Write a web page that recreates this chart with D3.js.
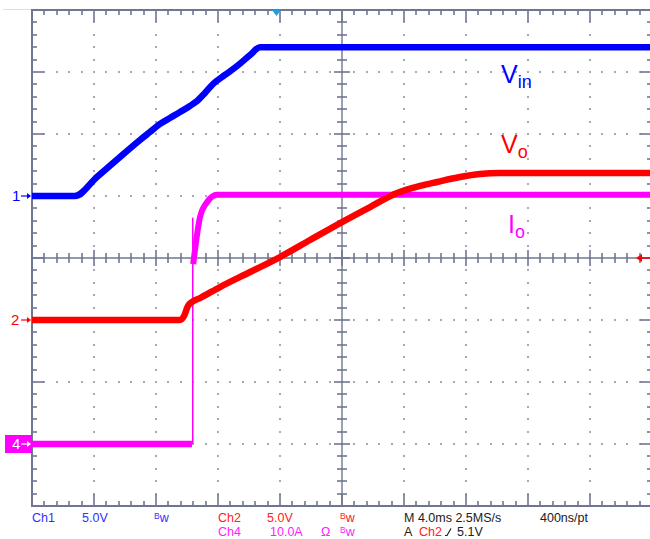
<!DOCTYPE html>
<html>
<head>
<meta charset="utf-8">
<script src="https://cdn.jsdelivr.net/npm/d3@7"></script>
<style>
  html, body { margin: 0; padding: 0; background: #ffffff; }
  svg { display: block; font-family: "Liberation Sans", Arial, sans-serif; }
</style>
</head>
<body>
<svg id="scope" width="650" height="539"></svg>
<script>
// Time base: 4 ms/div, 10 divisions; vertical: 8 divisions
const timeMs = [0, 40];

// Ch1 – input voltage Vin (5 V/div, ground at +1 div)
const vinTime = [0, 2.77, 4.19, 5.68, 6.97, 7.61, 8.26, 8.90, 9.55, 10.19, 10.65, 11.16, 11.68, 12.45, 13.23, 14.07, 14.71, 40];
const vinVolts = [0, 0, 1.53, 3.15, 4.52, 5.16, 5.81, 6.29, 6.77, 7.26, 7.66, 8.31, 9.03, 9.76, 10.48, 11.37, 12.0, 12.0];

// Ch2 – output voltage Vo (5 V/div, ground at -1 div)
const voTime = [0, 9.55, 9.81, 10.06, 10.32, 10.84, 12.13, 14.07, 16.0, 17.94, 20.0, 21.81, 23.55, 25.03, 26.13, 27.61, 28.90, 30.19, 40];
const voVolts = [0, 0, 0.32, 1.13, 1.45, 1.77, 2.66, 3.87, 5.08, 6.45, 7.90, 9.11, 10.24, 10.81, 11.13, 11.53, 11.77, 11.85, 11.85];

// Ch4 – output current Io (10 A/div, ground at -3 div)
const ioOffTime = [0, 10.32];
const ioOffAmps = [0, 0];
const ioSpikeTime = [10.37, 10.37];
const ioSpikeAmps = [0, 36.5];
const ioOnTime = [10.40, 10.84, 11.29, 11.94, 40];
const ioOnAmps = [29.0, 36.6, 39.0, 40.2, 40.2];

const channels = {
  ch1: { offsetDiv: 1, perDiv: 5, color: "#0000ff" },
  ch2: { offsetDiv: -1, perDiv: 5, color: "#ff0000" },
  ch4: { offsetDiv: -3, perDiv: 10, color: "#ff00ff" }
};

const svg = d3.select("#scope");
const gridColor = "#6f7690";

const xDiv = d3.scaleLinear().domain([0, 10]).range([32, 652]);
const yDiv = d3.scaleLinear().domain([-4, 4]).range([506, 10]);
const xTime = d3.scaleLinear().domain(timeMs).range(xDiv.range());

const minorX = d3.range(0, 51).map(i => i / 5);
const minorY = d3.range(0, 41).map(i => i / 5 - 4);
const isMajor = v => Math.abs(v - Math.round(v)) < 1e-6;
const px = v => Math.round(v);

// faint top-left rule
svg.append("line").attr("x1", 3).attr("x2", 32).attr("y1", 9.5).attr("y2", 9.5)
  .attr("stroke", "#e4dfd0").attr("stroke-width", 1);

const grid = svg.append("g");

// dotted graticule
const dots = [];
d3.range(1, 10).filter(d => d !== 5).forEach(d => {
  minorY.forEach(v => { if (v > -4 && v < 4) dots.push([xDiv(d), yDiv(v)]); });
});
d3.range(-3, 4).filter(d => d !== 0).forEach(d => {
  minorX.forEach(v => { if (v > 0 && v < 10) dots.push([xDiv(v), yDiv(d)]); });
});
grid.selectAll("rect.dot").data(dots).join("rect")
  .attr("class", "dot")
  .attr("x", d => Math.round(d[0]) - 1).attr("y", d => Math.round(d[1]) - 1)
  .attr("width", 2).attr("height", 2).attr("fill", "#a4a9bb")
  .attr("shape-rendering", "crispEdges");

// border and centre-axis ticks
const tickG = grid.append("g").attr("stroke", gridColor).attr("stroke-width", 1.6);
minorX.forEach(v => {
  const x = px(xDiv(v));
  const len = isMajor(v) ? 12 : 5;
  tickG.append("line").attr("x1", x).attr("x2", x).attr("y1", yDiv(4)).attr("y2", yDiv(4) + len);
  tickG.append("line").attr("x1", x).attr("x2", x).attr("y1", yDiv(-4)).attr("y2", yDiv(-4) - len);
  const c = isMajor(v) ? 8 : 5;
  tickG.append("line").attr("x1", x).attr("x2", x).attr("y1", yDiv(0) - c).attr("y2", yDiv(0) + c);
});
minorY.forEach(v => {
  const y = px(yDiv(v));
  const len = isMajor(v) ? 12 : 5;
  tickG.append("line").attr("y1", y).attr("y2", y).attr("x1", xDiv(0)).attr("x2", xDiv(0) + len);
  tickG.append("line").attr("y1", y).attr("y2", y).attr("x1", xDiv(10)).attr("x2", xDiv(10) - len);
  const c = isMajor(v) ? 8 : 5;
  tickG.append("line").attr("y1", y).attr("y2", y).attr("x1", xDiv(5) - c).attr("x2", xDiv(5) + c);
});

// centre cross
grid.append("line").attr("x1", xDiv(0)).attr("x2", xDiv(10)).attr("y1", px(yDiv(0))).attr("y2", px(yDiv(0)))
  .attr("stroke", gridColor).attr("stroke-width", 1.4);
grid.append("line").attr("x1", px(xDiv(5))).attr("x2", px(xDiv(5))).attr("y1", yDiv(4)).attr("y2", yDiv(-4))
  .attr("stroke", gridColor).attr("stroke-width", 1.4);

// border
grid.append("rect").attr("x", xDiv(0)).attr("y", yDiv(4))
  .attr("width", xDiv(10) - xDiv(0)).attr("height", yDiv(-4) - yDiv(4))
  .attr("fill", "none").attr("stroke", gridColor).attr("stroke-width", 2);

// traces
function trace(times, values, ch, width, curve) {
  const c = channels[ch];
  const line = d3.line()
    .curve(curve || d3.curveLinear)
    .x(d => xTime(d[0]))
    .y(d => yDiv(c.offsetDiv + d[1] / c.perDiv));
  svg.append("path")
    .datum(times.map((t, i) => [t, values[i]]))
    .attr("d", line)
    .attr("fill", "none")
    .attr("stroke", c.color)
    .attr("stroke-width", width)
    .attr("stroke-linejoin", "round");
}
trace(ioOffTime, ioOffAmps, "ch4", 6.5);
trace(ioSpikeTime, ioSpikeAmps, "ch4", 1.5);
trace(ioOnTime, ioOnAmps, "ch4", 6, d3.curveMonotoneX);
trace(voTime, voVolts, "ch2", 6.5, d3.curveMonotoneX);
trace(vinTime, vinVolts, "ch1", 6.5, d3.curveMonotoneX);

// channel ground markers
function groundArrow(y, color) {
  svg.append("line").attr("x1", 21).attr("x2", 30).attr("y1", y).attr("y2", y)
    .attr("stroke", color).attr("stroke-width", 1.2);
  svg.append("path").attr("d", `M${31},${y} l-4,-3 l0,6 z`).attr("fill", color);
}
const y1 = yDiv(channels.ch1.offsetDiv);
const y2 = yDiv(channels.ch2.offsetDiv);
const y4 = yDiv(channels.ch4.offsetDiv);

svg.append("text").attr("x", 12).attr("y", y1 + 5).attr("font-size", 15).attr("fill", "#0000ff").text("1");
groundArrow(y1, "#0000ff");
svg.append("text").attr("x", 11).attr("y", y2 + 5).attr("font-size", 15).attr("fill", "#ff0000").text("2");
groundArrow(y2, "#ff0000");
svg.append("rect").attr("x", 5).attr("y", y4 - 9).attr("width", 27).attr("height", 18).attr("fill", "#ff00ff");
svg.append("text").attr("x", 12).attr("y", y4 + 5).attr("font-size", 15).attr("fill", "#ffffff").text("4");
groundArrow(y4, "#ffffff");

// trigger level marker (right) and trigger position marker (top)
const trigY = yDiv(0);
svg.append("line").attr("x1", 640).attr("x2", 650).attr("y1", trigY).attr("y2", trigY)
  .attr("stroke", "#ff0000").attr("stroke-width", 1.5);
svg.append("path").attr("d", `M636,${trigY} l6,-4 l0,8 z`).attr("fill", "#ff0000");
svg.append("path").attr("d", `M272,${yDiv(4)} l9,0 l-4.5,6 z`).attr("fill", "#1e9fe0");

// trace labels
function label(x, y, main, sub, color) {
  const t = svg.append("text").attr("x", x).attr("y", y).attr("fill", color).attr("font-size", 25);
  t.append("tspan").text(main);
  t.append("tspan").attr("font-size", 18).attr("dy", 5).text(sub);
}
label(501, 83, "V", "in", "#0000ff");
label(501, 153, "V", "o", "#ff0000");
label(508, 233, "I", "o", "#ff00ff");

// status readout
const status = svg.append("g").attr("font-size", 12.5);
function txt(x, y, s, color) {
  status.append("text").attr("x", x).attr("y", y).attr("fill", color).text(s);
}
function bw(x, y, color) {
  const t = status.append("text").attr("x", x).attr("y", y).attr("fill", color);
  t.append("tspan").attr("font-size", 8.5).attr("dy", -3).text("B");
  t.append("tspan").attr("dy", 3).text("w");
}
const row1 = 521.5, row2 = 536;
txt(32, row1, "Ch1", "#3030ff");
txt(82, row1, "5.0V", "#3030ff");
bw(154, row1, "#3030ff");
txt(218, row1, "Ch2", "#ff2020");
txt(267, row1, "5.0V", "#ff2020");
bw(340, row1, "#ff2020");
txt(218, row2, "Ch4", "#ff20ff");
txt(270, row2, "10.0A", "#ff20ff");
txt(321, row2, "Ω", "#ff20ff");
bw(340, row2, "#ff20ff");
txt(404, row1, "M 4.0ms 2.5MS/s", "#202020");
txt(540, row1, "400ns/pt", "#202020");
txt(404, row2, "A", "#202020");
txt(419, row2, "Ch2", "#ff2020");
status.append("path").attr("d", `M445,${row2 - 0.5} h2 l4,-7`).attr("fill", "none")
  .attr("stroke", "#202020").attr("stroke-width", 1.2);
txt(457, row2, "5.1V", "#202020");
</script>
</body>
</html>
